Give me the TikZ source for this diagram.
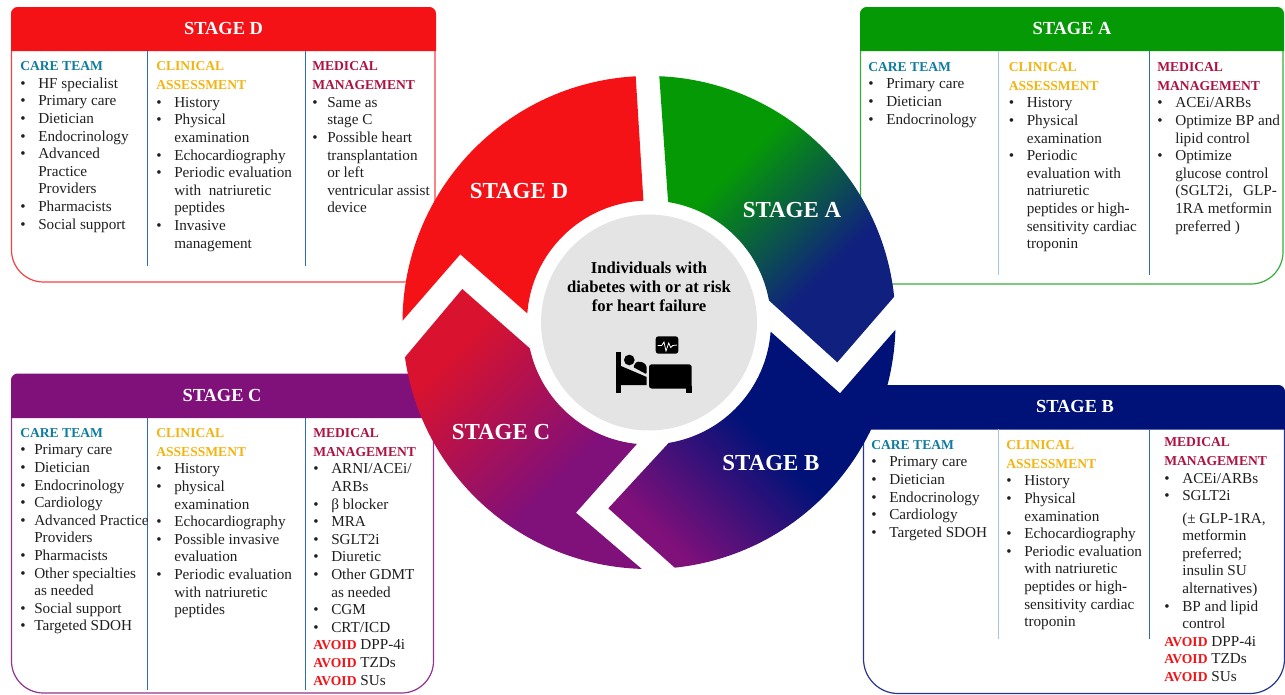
\documentclass[tikz,border=0pt]{standalone}
\usepackage{fontspec}
\setmainfont{Liberation Serif}
\definecolor{stred}{HTML}{F41216}
\definecolor{stgreen}{HTML}{059A05}
\definecolor{stnavy}{HTML}{001278}
\definecolor{stblue}{HTML}{10207F}
\definecolor{stpurple}{HTML}{80107A}
\definecolor{stcrimson}{HTML}{D8122F}
\definecolor{careteal}{HTML}{0F7B9F}
\definecolor{clingold}{HTML}{F2B413}
\definecolor{medcrimson}{HTML}{AE1240}
\definecolor{divblue}{HTML}{2E6DB0}
\definecolor{divlight}{HTML}{A5C6E6}
\definecolor{hubgray}{HTML}{E4E4E4}
\pgfdeclarehorizontalshading{ringa}{100bp}{color(0bp)=(stgreen); color(37bp)=(stgreen); color(64bp)=(stblue); color(100bp)=(stblue)}
\pgfdeclarehorizontalshading{ringb}{100bp}{color(0bp)=(stnavy); color(47bp)=(stnavy); color(74bp)=(stpurple); color(100bp)=(stpurple)}
\pgfdeclarehorizontalshading{ringc}{100bp}{color(0bp)=(stcrimson); color(30bp)=(stcrimson); color(62bp)=(stpurple); color(100bp)=(stpurple)}
\newcommand\itm[2][13.5pt]{\makebox[#1][l]{\textbullet}#2}
\newcommand\itmc[2][13.5pt]{\hspace*{#1}#2}
\newcommand\headtxt[2]{{\fontsize{10.2}{13.2}\selectfont\bfseries\color{#1}#2}}
\newcommand\avoid[1]{{\fontsize{10.2}{13.2}\selectfont\bfseries\color{stred}AVOID} #1}
\tikzset{
  listtext/.style={anchor=north west,inner sep=0pt,align=left,font=\fontsize{11.4}{13.2}\selectfont,text=black!88},
  stagehead/.style={text=white,inner sep=0pt,font=\fontsize{13.8}{16}\selectfont\bfseries},
  ringlabel/.style={text=white,inner sep=0pt,font=\fontsize{17.2}{20}\selectfont\bfseries},
  divline/.style={draw=divblue,line width=0.6pt},
  divpale/.style={draw=divlight,line width=1pt},
}
\begin{document}
\begin{tikzpicture}[x=0.75pt,y=-0.75pt]
\useasboundingbox (0,0) rectangle (1285,694);

% stage D panel
\draw[stred!80,line width=0.9pt,rounded corners=24pt] (11.5,51) -- (11.5,282) -- (435,282) -- (435,51);
\fill[stred] (11,51) [rounded corners=5pt] -- (11,7) -- (436,7) [sharp corners] -- (436,51) -- cycle;
\node[stagehead] (dhead) at (223.5,28) {STAGE D};
\path[divline] (147,51) -- (147,266);
\path[divline] (305,51) -- (305,266);
\node[listtext] (dteam) at (20,61.5) {\headtxt{careteal}{CARE TEAM}\\
\itm{HF specialist}\\ \itm{Primary care}\\ \itm{Dietician}\\ \itm{Endocrinology}\\
\itm{Advanced}\\ \itmc{Practice}\\ \itmc{Providers}\\ \itm{Pharmacists}\\ \itm{Social support}};
\node[listtext] (dclin) at (156,61.5) {\headtxt{clingold}{CLINICAL}\\[1pt] \headtxt{clingold}{ASSESSMENT}\\
\itm{History}\\ \itm{Physical}\\ \itmc{examination}\\ \itm{Echocardiography}\\
\itm{Periodic evaluation}\\ \itmc{with\ \ natriuretic}\\ \itmc{peptides}\\ \itm{Invasive}\\ \itmc{management}};
\node[listtext] (dmed) at (312,61.5) {\headtxt{medcrimson}{MEDICAL}\\[1pt] \headtxt{medcrimson}{MANAGEMENT}\\
\itm[11.25pt]{Same as}\\ \itmc[11.25pt]{stage C}\\ \itm[11.25pt]{Possible heart}\\ \itmc[11.25pt]{transplantation}\\
\itmc[11.25pt]{or left}\\ \itmc[11.25pt]{ventricular assist}\\ \itmc[11.25pt]{device}};

% stage A panel
\draw[stgreen!80,line width=0.9pt,rounded corners=24pt] (860.5,51) -- (860.5,284) -- (1283,284) -- (1283,51);
\fill[stgreen] (860,51) [rounded corners=5pt] -- (860,7) -- (1284,7) [sharp corners] -- (1284,51) -- cycle;
\node[stagehead] (ahead) at (1072,28) {STAGE A};
\path[divpale] (998.5,51) -- (998.5,275);
\path[divline] (1149.5,51) -- (1149.5,275);
\node[listtext] (ateam) at (868,62) {\headtxt{careteal}{CARE TEAM}\\
\itm{Primary care}\\ \itm{Dietician}\\ \itm{Endocrinology}};
\node[listtext] (aclin) at (1008.5,62) {\headtxt{clingold}{CLINICAL}\\[1pt] \headtxt{clingold}{ASSESSMENT}\\
\itm{History}\\ \itm{Physical}\\ \itmc{examination}\\ \itm{Periodic}\\ \itmc{evaluation with}\\
\itmc{natriuretic}\\ \itmc{peptides or high-}\\ \itmc{sensitivity cardiac}\\ \itmc{troponin}};
\node[listtext] (amed) at (1157,62) {\headtxt{medcrimson}{MEDICAL}\\[1pt] \headtxt{medcrimson}{MANAGEMENT}\\
\itm{ACEi/ARBs}\\ \itm{Optimize BP and}\\ \itmc{lipid control}\\ \itm{Optimize}\\ \itmc{glucose control}\\
\itmc{(SGLT2i,\hspace{8pt}GLP-}\\ \itmc{1RA metformin}\\ \itmc{preferred )}};

% stage C panel
\draw[stpurple!85,line width=0.9pt,rounded corners=24pt] (11.5,418) -- (11.5,693) -- (433.5,693) -- (433.5,418);
\fill[stpurple] (11,418) [rounded corners=5pt] -- (11,373.5) -- (434,373.5) [sharp corners] -- (434,418) -- cycle;
\node[stagehead] (chead) at (222,395) {STAGE C};
\path[divline] (147,418) -- (147,690);
\path[divline] (305,418) -- (305,690);
\node[listtext] (cteam) at (20,428) {\headtxt{careteal}{CARE TEAM}\\
\itm[10.5pt]{Primary care}\\ \itm[10.5pt]{Dietician}\\ \itm[10.5pt]{Endocrinology}\\ \itm[10.5pt]{Cardiology}\\ \itm[10.5pt]{Advanced Practice}\\ \itmc[10.5pt]{Providers}\\
\itm[10.5pt]{Pharmacists}\\ \itm[10.5pt]{Other specialties}\\ \itmc[10.5pt]{as needed}\\ \itm[10.5pt]{Social support}\\ \itm[10.5pt]{Targeted SDOH}};
\node[listtext] (cclin) at (156,428) {\headtxt{clingold}{CLINICAL}\\[1pt] \headtxt{clingold}{ASSESSMENT}\\
\itm{History}\\ \itm{physical}\\ \itmc{examination}\\ \itm{Echocardiography}\\ \itm{Possible invasive}\\ \itmc{evaluation}\\
\itm{Periodic evaluation}\\ \itmc{with natriuretic}\\ \itmc{peptides}};
\node[listtext] (cmed) at (313,428) {\headtxt{medcrimson}{MEDICAL}\\[1pt] \headtxt{medcrimson}{MANAGEMENT}\\
\itm{ARNI/ACEi/}\\ \itmc{ARBs}\\ \itm{β blocker}\\ \itm{MRA}\\ \itm{SGLT2i}\\ \itm{Diuretic}\\ \itm{Other GDMT}\\ \itmc{as needed}\\
\itm{CGM}\\ \itm{CRT/ICD}\\ \avoid{DPP-4i}\\ \avoid{TZDs}\\ \avoid{SUs}};

% stage B panel
\draw[stnavy!85,line width=0.9pt,rounded corners=26pt] (863.5,429) -- (863.5,693.5) -- (1284.5,693.5) -- (1284.5,429);
\fill[stnavy] (860,429.5) -- (860,385) [rounded corners=5pt] -- (1285,385) [sharp corners] -- (1285,429.5) -- cycle;
\node[stagehead] (bhead) at (1075,406) {STAGE B};
\path[divpale] (998.5,429) -- (998.5,639);
\path[divline] (1149.5,429) -- (1149.5,639);
\node[listtext] (bteam) at (871,440) {\headtxt{careteal}{CARE TEAM}\\
\itm{Primary care}\\ \itm{Dietician}\\ \itm{Endocrinology}\\ \itm{Cardiology}\\ \itm{Targeted SDOH}};
\node[listtext] (bclin) at (1006,440) {\headtxt{clingold}{CLINICAL}\\[1pt] \headtxt{clingold}{ASSESSMENT}\\
\itm{History}\\ \itm{Physical}\\ \itmc{examination}\\ \itm{Echocardiography}\\ \itm{Periodic evaluation}\\
\itmc{with natriuretic}\\ \itmc{peptides or high-}\\ \itmc{sensitivity cardiac}\\ \itmc{troponin}};
\node[listtext] (bmed) at (1164,437.5) {\headtxt{medcrimson}{MEDICAL}\\[1pt] \headtxt{medcrimson}{MANAGEMENT}\\
\itm{ACEi/ARBs}\\ \itm{SGLT2i}\\[3.4pt] \itmc{(± GLP-1RA,}\\ \itmc{metformin}\\ \itmc{preferred;}\\ \itmc{insulin SU}\\
\itmc{alternatives)}\\ \itm{BP and lipid}\\ \itmc{control}\\ \avoid{DPP-4i}\\ \avoid{TZDs}\\ \avoid{SUs}};

% ring
\shade[shading=ringa,shading angle=-45] (659.3,76.2) arc[start angle=87.6,end angle=6,radius=184.9pt] -- (837.3,362.3) -- (769,300.5) arc[start angle=10.4,end angle=81,radius=91.5pt] -- cycle;
\shade[shading=ringb,shading angle=225] (895.4,329.8) arc[start angle=-1.7,end angle=-84,radius=184.9pt] -- (608.3,508.3) -- (668.7,442.9) arc[start angle=-80.7,end angle=-4.3,radius=91.5pt] -- (840,393.3) -- cycle;
\shade[shading=ringc,shading angle=-45] (641.7,568.9) arc[start angle=268.3,end angle=188.1,radius=184.9pt] -- (462.3,289) -- (529.8,348.3) arc[start angle=192.2,end angle=264.3,radius=91.5pt] -- (576,512.7) -- cycle;
\fill[stred] (635.7,76.3) arc[start angle=93.1,end angle=179.6,radius=184.9pt] -- (460.3,254.3) -- (527.3,313.4) arc[start angle=175.7,end angle=92.6,radius=91.5pt] -- cycle;
\node[ringlabel] (alabel) at (792,210.5) {STAGE A};
\node[ringlabel] (blabel) at (771,463.5) {STAGE B};
\node[ringlabel] (clabel) at (501,432.5) {STAGE C};
\node[ringlabel] (dlabel) at (519,191.5) {STAGE D};

% hub
\node[circle,fill=hubgray,inner sep=0pt,minimum size=162pt] (hub) at (649,322.5) {};
\node[align=center,inner sep=0pt,font=\fontsize{12.5}{14.2}\selectfont\bfseries] (hubtext) at (649,287) {Individuals with\\ diabetes with or at risk\\ for heart failure};

% bed and monitor
\fill[black] (616,352) rectangle (621,393.3);
\fill[black] (621,366) -- (646.7,377) -- (646.7,385) -- (621,385) -- cycle;
\fill[black] (629.3,360) circle[radius=4pt];
\fill[black,rounded corners=1pt] (636.7,361.5) -- (643.3,362.3) -- (646.7,366) -- (646.7,374.3) -- (633,367) -- cycle;
\fill[black,rounded corners=2pt] (649,364.3) rectangle (691.7,388.5);
\fill[black] (686,386) rectangle (691.7,393.3);
\fill[black,rounded corners=2pt] (655.7,336.3) rectangle (678.3,353.7);
\draw[white,line width=0.6pt] (657.5,345.5) -- (661.7,345.5) -- (664,342) -- (666,351) -- (668.7,343) -- (670.7,347.5) -- (672.7,345.5) -- (677,345);
\end{tikzpicture}
\end{document}
